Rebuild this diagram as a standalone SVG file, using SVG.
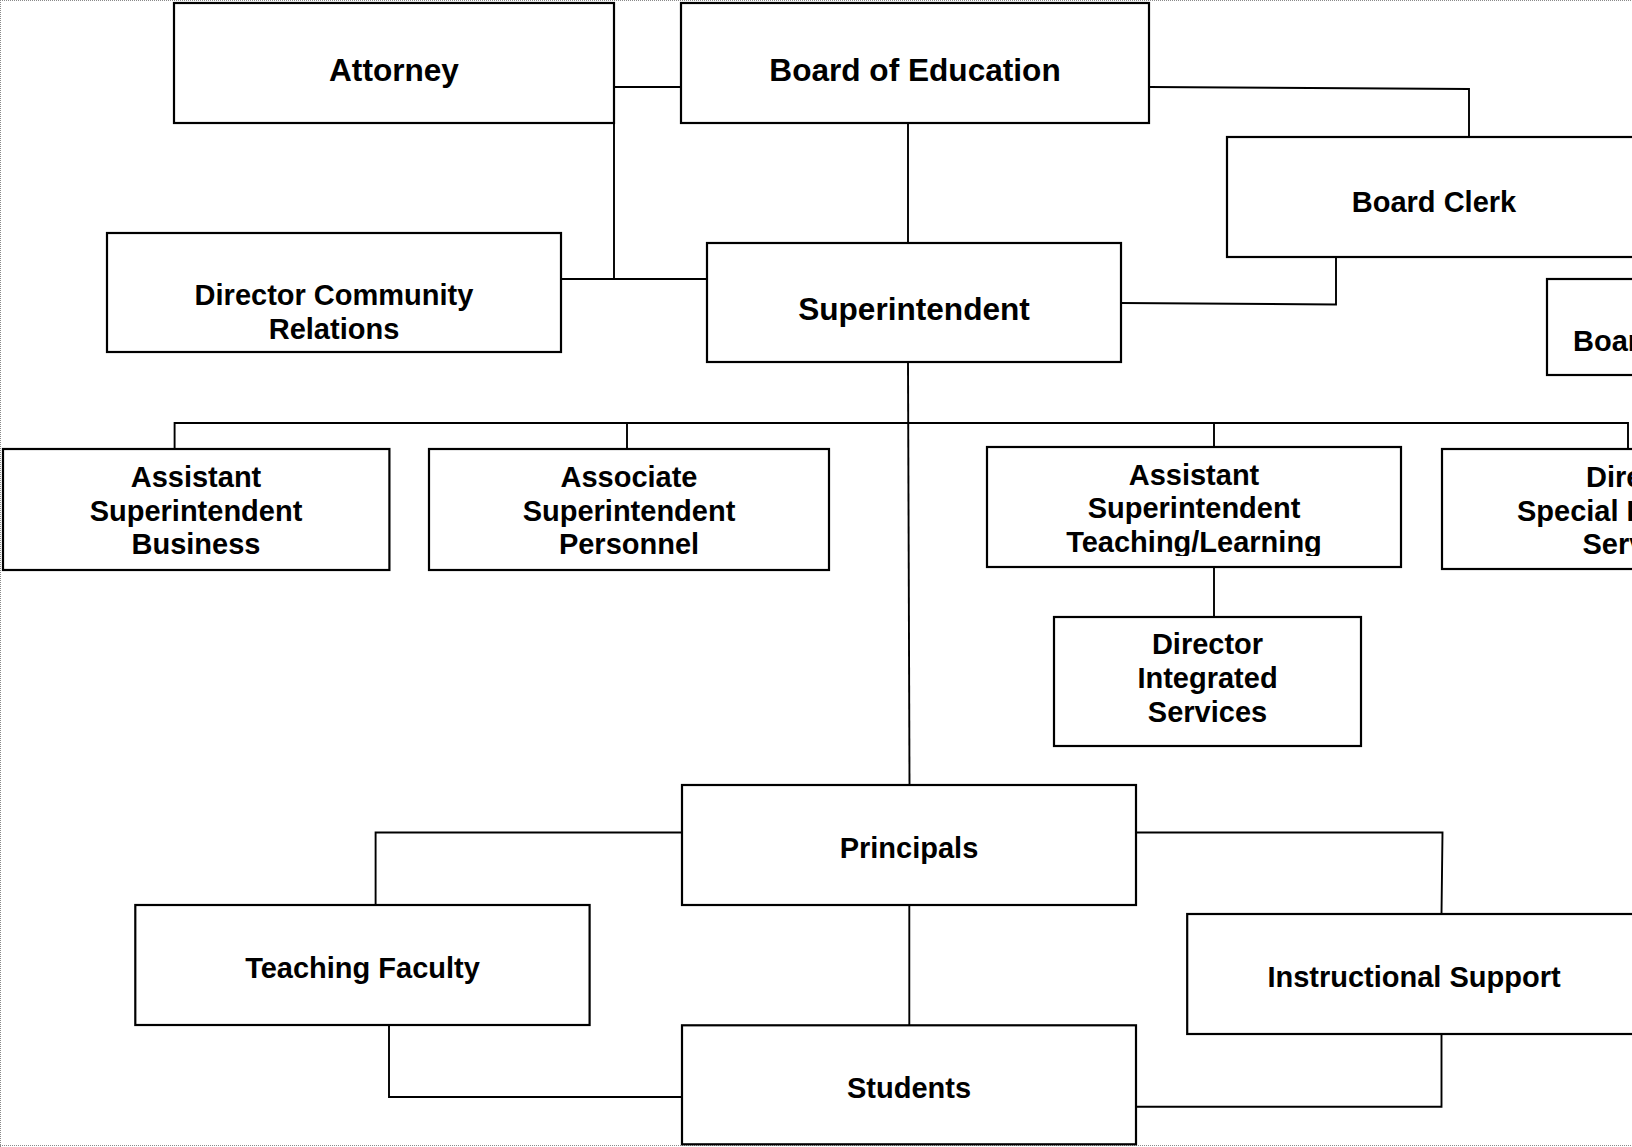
<svg xmlns="http://www.w3.org/2000/svg" width="1632" height="1147" viewBox="0 0 1632 1147">
  <style>
    .box { fill: #ffffff; stroke: #000000; stroke-width: 2.2; }
    .link { fill: none; stroke: #000000; stroke-width: 1.9; }
    .frame { fill: none; stroke: #8a8a8a; stroke-width: 1; stroke-dasharray: 1 1; }
    text { font-family: "Liberation Sans", Arial, sans-serif; font-weight: bold; fill: #000000; text-anchor: middle; }
    .big { font-size: 31.6px; }
    .std { font-size: 29px; }
    .cut { text-anchor: start; }
  </style>
  <defs>
    <clipPath id="tl-clip">
      <rect x="980" y="440" width="430" height="116"/>
    </clipPath>
  </defs>

  <!-- page frame -->
  <g id="frame">
    <line class="frame" x1="0" y1="0.5" x2="1632" y2="0.5"/>
    <line class="frame" x1="0.5" y1="0" x2="0.5" y2="1147"/>
    <line class="frame" x1="0" y1="1145.5" x2="1632" y2="1145.5"/>
  </g>

  <!-- connectors -->
  <g id="connectors">
    <polyline class="link" points="681,87 614,87 614,279"/>
    <line class="link" x1="561" y1="279" x2="707" y2="279"/>
    <line class="link" x1="908" y1="123" x2="908" y2="243"/>
    <polyline class="link" points="1149,87 1469,89 1469,137"/>
    <polyline class="link" points="1121,303 1336,304.5 1336,257"/>
    <line class="link" x1="908" y1="362" x2="909.5" y2="785"/>
    <polyline class="link" points="174.6,449 174.6,423 1628,423 1628,449"/>
    <line class="link" x1="627" y1="423" x2="627" y2="449"/>
    <line class="link" x1="1214" y1="423" x2="1214" y2="447"/>
    <line class="link" x1="1214" y1="567" x2="1214" y2="617"/>
    <line class="link" x1="909.3" y1="905" x2="909.3" y2="1025"/>
    <polyline class="link" points="682,832.5 375.6,832.5 375.6,905"/>
    <polyline class="link" points="389,1025 389,1097 682,1097"/>
    <polyline class="link" points="1136,832.5 1442.5,832.5 1441.5,914"/>
    <polyline class="link" points="1441.5,1034 1441.5,1106.7 1133.5,1106.7"/>
  </g>

  <g id="attorney">
    <rect class="box" x="174" y="3" width="440" height="120"/>
    <text class="big" x="394" y="81">Attorney</text>
  </g>

  <g id="board-of-education">
    <rect class="box" x="681" y="3" width="468" height="120"/>
    <text class="big" x="915" y="81">Board of Education</text>
  </g>

  <g id="board-clerk">
    <rect class="box" x="1227" y="137" width="420" height="120"/>
    <text class="std" x="1434" y="211.7">Board Clerk</text>
  </g>

  <g id="board-other">
    <rect class="box" x="1547" y="279" width="200" height="96"/>
    <text class="std cut" x="1573" y="351">Boar</text>
  </g>

  <g id="director-community-relations">
    <rect class="box" x="107" y="233" width="454" height="119"/>
    <text class="std" x="334" y="305">Director Community</text>
    <text class="std" x="334" y="338.5">Relations</text>
  </g>

  <g id="superintendent">
    <rect class="box" x="707" y="243" width="414" height="119"/>
    <text class="big" x="914" y="320">Superintendent</text>
  </g>

  <g id="asst-super-business">
    <rect class="box" x="3" y="449" width="386.4" height="121"/>
    <text class="std" x="196" y="487.3">Assistant</text>
    <text class="std" x="196" y="520.7">Superintendent</text>
    <text class="std" x="196" y="554">Business</text>
  </g>

  <g id="assoc-super-personnel">
    <rect class="box" x="429" y="449" width="400" height="121"/>
    <text class="std" x="629" y="487.3">Associate</text>
    <text class="std" x="629" y="520.7">Superintendent</text>
    <text class="std" x="629" y="554">Personnel</text>
  </g>

  <g id="asst-super-teaching-learning">
    <rect class="box" x="987" y="447" width="414" height="120"/>
    <g clip-path="url(#tl-clip)">
      <text class="std" x="1194" y="485">Assistant</text>
      <text class="std" x="1194" y="518.4">Superintendent</text>
      <text class="std" x="1194" y="551.7">Teaching/Learning</text>
    </g>
  </g>

  <g id="director-special-ed">
    <rect class="box" x="1442" y="449" width="400" height="120"/>
    <text class="std cut" x="1586" y="487">Dire</text>
    <text class="std cut" x="1517" y="520.5">Special E</text>
    <text class="std cut" x="1582.5" y="554">Serv</text>
  </g>

  <g id="director-integrated-services">
    <rect class="box" x="1054" y="617" width="307" height="129"/>
    <text class="std" x="1207.5" y="654">Director</text>
    <text class="std" x="1207.5" y="688">Integrated</text>
    <text class="std" x="1207.5" y="722">Services</text>
  </g>

  <g id="principals">
    <rect class="box" x="682" y="785" width="454" height="120"/>
    <text class="std" x="909" y="858.3">Principals</text>
  </g>

  <g id="teaching-faculty">
    <rect class="box" x="135.3" y="905" width="454.3" height="120"/>
    <text class="std" x="362.5" y="978.3">Teaching Faculty</text>
  </g>

  <g id="instructional-support">
    <rect class="box" x="1187.2" y="914" width="460" height="120"/>
    <text class="std" x="1414" y="987.3">Instructional Support</text>
  </g>

  <g id="students">
    <rect class="box" x="682" y="1025.3" width="454" height="119"/>
    <text class="std" x="909" y="1098">Students</text>
  </g>
</svg>
